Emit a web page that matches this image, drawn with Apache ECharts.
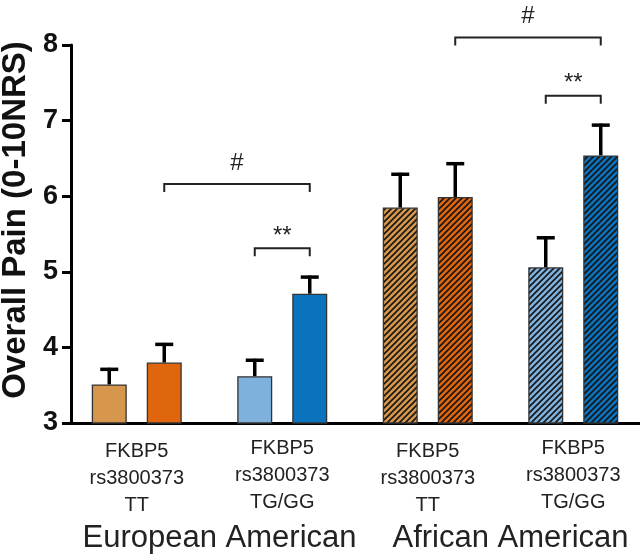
<!DOCTYPE html>
<html>
<head>
<meta charset="utf-8">
<script src="https://cdn.jsdelivr.net/npm/echarts@6/dist/echarts.min.js"></script>
<style>html,body{margin:0;padding:0;background:#fff;}#c{width:640px;height:557px;}</style>
</head>
<body>
<div id="c"></div>
<script>
// ---- data ----
const categories = ['FKBP5\nrs3800373\nTT', 'FKBP5\nrs3800373\nTG/GG', 'FKBP5\nrs3800373\nTT', 'FKBP5\nrs3800373\nTG/GG'];
const populations = ['European American', 'African American'];
const leftMeans  = [3.51, 3.62, 5.85, 5.06];
const rightMeans = [3.80, 4.71, 5.99, 6.54];
const leftUpper  = [3.71, 3.83, 6.29, 5.45];
const rightUpper = [4.04, 4.93, 6.43, 6.94];
const yMin = 3, yMax = 8, yInterval = 1;
// [fromCategory, fromSide(0=left,1=right), toCategory, toSide, level]
const brackets = [[0, 1, 1, 1, 6.16], [1, 0, 1, 1, 5.31], [2, 1, 3, 1, 8.10], [3, 0, 3, 1, 7.33]];
const bracketLabels = ['#', '**', '#', '**'];

// ---- styles ----
const FONT = '"Liberation Sans", Arial, Helvetica, sans-serif';
const BAR_W = 35, GAP_RATIO = 0.5714;
const OFFSET = (BAR_W + BAR_W * GAP_RATIO) / 2;
const colors = { orange: ['#D6964B', '#E0660E'], blue: ['#7FB1DD', '#0B72BD'] };

function hatch(base) {
  const s = 6;
  const cv = document.createElement('canvas');
  cv.width = s; cv.height = s;
  const ctx = cv.getContext('2d');
  ctx.fillStyle = base; ctx.fillRect(0, 0, s, s);
  ctx.strokeStyle = '#151515'; ctx.lineWidth = 1.6;
  ctx.beginPath();
  ctx.moveTo(0, s); ctx.lineTo(s, 0);
  ctx.moveTo(-s / 2, s / 2); ctx.lineTo(s / 2, -s / 2);
  ctx.moveTo(s / 2, s * 1.5); ctx.lineTo(s * 1.5, s / 2);
  ctx.stroke();
  return { image: cv, repeat: 'repeat' };
}
function itemColor(cat, side) {
  const base = (cat % 2 === 0 ? colors.orange : colors.blue)[side];
  return cat >= 2 ? hatch(base) : base;
}
function barData(values, side) {
  return values.map((v, i) => ({ value: v, itemStyle: { color: itemColor(i, side) } }));
}
function errorRender(side) {
  const dir = side === 0 ? -1 : 1;
  return function (params, api) {
    const c = api.value(0);
    const base = api.coord([c, api.value(1)]);
    const top = api.coord([c, api.value(2)]);
    const x = base[0] + dir * OFFSET;
    return {
      type: 'group',
      children: [
        { type: 'line', shape: { x1: x, y1: base[1], x2: x, y2: top[1] - 1.5 }, style: { stroke: '#000', lineWidth: 3.5 } },
        { type: 'line', shape: { x1: x - 9, y1: top[1], x2: x + 9, y2: top[1] }, style: { stroke: '#000', lineWidth: 3.5 } }
      ]
    };
  };
}
function bracketRender(params, api) {
  const b = brackets[params.dataIndex];
  const p1 = api.coord([b[0], b[4]]);
  const p2 = api.coord([b[2], b[4]]);
  const x1 = p1[0] + (b[1] === 0 ? -1 : 1) * OFFSET;
  const x2 = p2[0] + (b[3] === 0 ? -1 : 1) * OFFSET;
  const y = p1[1];
  const lab = bracketLabels[params.dataIndex];
  const ty = lab === '#' ? y - 21 : y - 12;
  return {
    type: 'group',
    children: [
      { type: 'polyline', shape: { points: [[x1, y + 8], [x1, y], [x2, y], [x2, y + 8]] }, style: { stroke: '#222', lineWidth: 2, fill: null } },
      { type: 'text', style: { text: lab, x: (x1 + x2) / 2, y: ty, align: 'center', verticalAlign: 'middle', fontSize: 24, fontFamily: FONT, fill: '#222' } }
    ]
  };
}

const chart = echarts.init(document.getElementById('c'), null, { renderer: 'canvas' });
chart.setOption({
  animation: false,
  backgroundColor: '#fff',
  grid: { left: 64, top: 45, width: 582, height: 378, outerBoundsMode: 'none', containLabel: false },
  xAxis: [
    {
      type: 'category', data: categories.map((c, i) => ({ value: c, textStyle: { padding: [i % 2 === 0 ? 3 : 0, 0, 0, 0] } })),
      position: 'bottom',
      axisLine: { show: true, lineStyle: { color: '#000', width: 3 } },
      axisTick: { show: false },
      axisLabel: { fontSize: 20, lineHeight: 27, color: '#222', fontFamily: FONT, margin: 12, interval: 0 }
    },
    {
      type: 'category', data: populations, position: 'bottom',
      axisLine: { show: false }, axisTick: { show: false },
      axisLabel: { fontSize: 31, lineHeight: 31, color: '#222', fontFamily: FONT, margin: 100, padding: [0, 0, 0, 20], interval: 0 }
    }
  ],
  yAxis: {
    type: 'value', min: yMin, max: yMax, interval: yInterval, offset: -7,
    name: 'Overall Pain (0-10NRS)', nameLocation: 'middle', nameGap: 33,
    nameTextStyle: { fontSize: 33, fontWeight: 'bold', color: '#111', fontFamily: FONT, padding: [0, 0, 0, 28] },
    axisLine: { show: true, lineStyle: { color: '#000', width: 3 } },
    axisTick: { show: true, length: 9, lineStyle: { color: '#000', width: 3 } },
    axisLabel: { fontSize: 27, fontWeight: 'bold', color: '#111', fontFamily: FONT, margin: 13 },
    splitLine: { show: false }
  },
  series: [
    { type: 'bar', name: 'left', xAxisIndex: 0, data: barData(leftMeans, 0), barWidth: BAR_W, barGap: (GAP_RATIO * 100) + '%',
      itemStyle: { borderColor: '#333', borderWidth: 1.3 }, z: 2 },
    { type: 'bar', name: 'right', xAxisIndex: 0, data: barData(rightMeans, 1), barWidth: BAR_W, barGap: (GAP_RATIO * 100) + '%',
      itemStyle: { borderColor: '#333', borderWidth: 1.3 }, z: 2 },
    { type: 'custom', xAxisIndex: 0, renderItem: errorRender(0), data: leftMeans.map((v, i) => [i, v, leftUpper[i]]), z: 3, clip: false },
    { type: 'custom', xAxisIndex: 0, renderItem: errorRender(1), data: rightMeans.map((v, i) => [i, v, rightUpper[i]]), z: 3, clip: false },
    { type: 'custom', xAxisIndex: 0, renderItem: bracketRender, data: brackets.map(b => [b[0], b[4]]), z: 4, clip: false }
  ]
});
</script>
</body>
</html>
